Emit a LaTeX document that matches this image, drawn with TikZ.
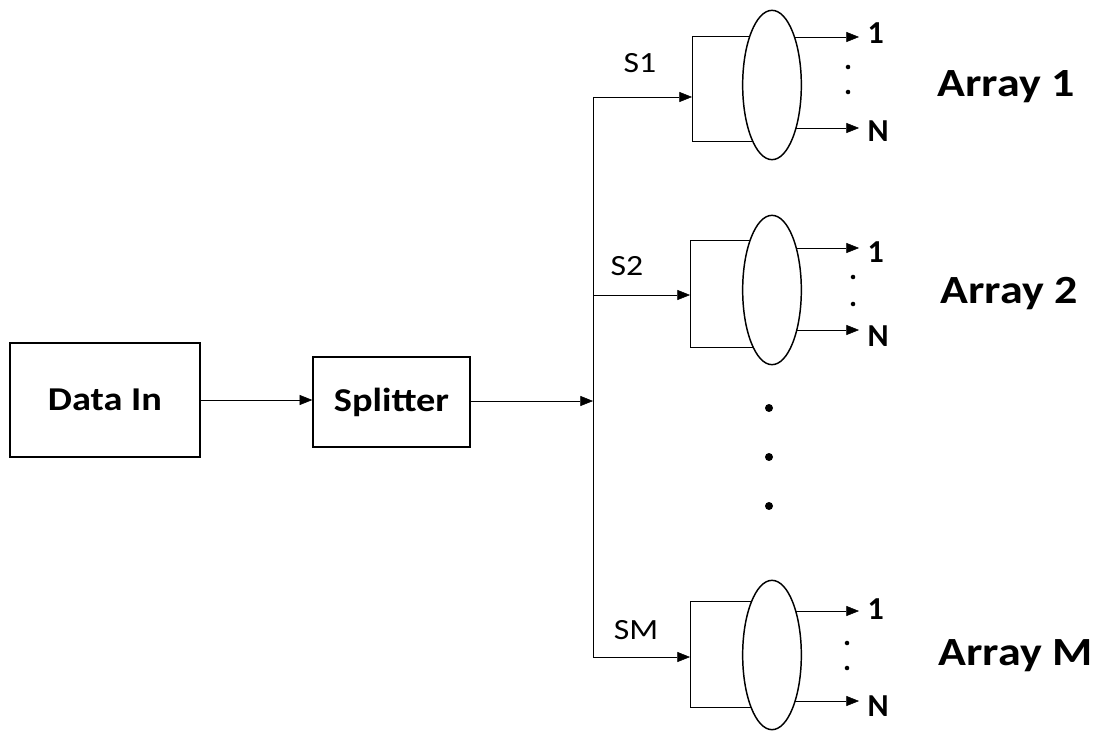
\documentclass[tikz,border=0pt]{standalone}
\usepackage{fontspec}
\setmainfont{Carlito}
\newfontfamily\widefont[FakeStretch=1.15]{Carlito}
\usetikzlibrary{arrows.meta,shapes.geometric,backgrounds}
\begin{document}
\begin{tikzpicture}[x=0.75pt,y=-0.75pt,
  line width=1.1pt,
  arr/.style={-{Triangle[length=9.5pt,width=7.5pt]}},
  blockbox/.style={draw,rectangle,inner sep=0pt,font=\widefont\fontsize{25}{27}\selectfont\bfseries},
  lens/.style={draw,ellipse,fill=white,minimum width=44pt,minimum height=112pt,inner sep=0pt},
  outlbl/.style={anchor=west,inner sep=0pt,font=\fontsize{24}{26}\selectfont\bfseries},
  slbl/.style={inner sep=0pt,font=\widefont\fontsize{22}{24}\selectfont},
  arrlbl/.style={anchor=base west,inner sep=0pt,font=\widefont\fontsize{30}{32}\selectfont\bfseries},
  bigdot/.style={circle,fill=black,inner sep=0pt,minimum size=6pt},
  smalldot/.style={circle,fill=black,inner sep=0pt,minimum size=3.4pt}]
\useasboundingbox (0,0) rectangle (1103,731);

% blocks
\node[blockbox,minimum width=142.5pt,minimum height=85.5pt] (data) at (105,400) {Data In};
\node[blockbox,minimum width=117.75pt,minimum height=67.5pt] (split) at (391.5,402) {Splitter};
\coordinate (junc) at (593,401);
\coordinate (vtop) at (593,97);
\coordinate (vbot) at (593,657);

% lenses
\node[lens] (e1) at (772,85) {};
\node[lens] (e2) at (772,290) {};
\node[lens] (em) at (772,655) {};

% bracket corners
\coordinate (b1t) at (692,36);  \coordinate (b1b) at (692,141); \coordinate (b1i) at (692,97);
\coordinate (b2t) at (690,240); \coordinate (b2b) at (690,347); \coordinate (b2i) at (690,295);
\coordinate (bmt) at (690,601); \coordinate (bmb) at (690,707); \coordinate (bmi) at (690,657);
\coordinate (j1) at (593,97); \coordinate (j2) at (593,295); \coordinate (jm) at (593,657);

% output arrow tips
\coordinate (t1a) at (859,37);  \coordinate (t1n) at (859,128);
\coordinate (t2a) at (859,248); \coordinate (t2n) at (859,330);
\coordinate (tma) at (859,611); \coordinate (tmn) at (859,701);

% output labels
\node[outlbl] (o1a) at (867,33) {1};
\node[outlbl] (o1n) at (867,131) {N};
\node[outlbl] (o2a) at (867,252) {1};
\node[outlbl] (o2n) at (867,336) {N};
\node[outlbl] (oma) at (867,609) {1};
\node[outlbl] (omn) at (867,706) {N};

% signal labels
\node[slbl] (s1) at (640,63) {S1};
\node[slbl] (s2) at (627,266) {S2};
\node[slbl] (sm) at (636,630) {SM};

% array labels
\node[arrlbl] (a1) at (937,97) {Array 1};
\node[arrlbl] (a2) at (940,303) {Array 2};
\node[arrlbl] (am) at (938,665) {Array M};

% dots
\node[bigdot] (d1) at (769,408) {};
\node[bigdot] (d2) at (769,457) {};
\node[bigdot] (d3) at (769,506) {};
\node[smalldot] (p11) at (848,67) {};
\node[smalldot] (p12) at (848,92) {};
\node[smalldot] (p21) at (853,277) {};
\node[smalldot] (p22) at (853,304) {};
\node[smalldot] (pm1) at (847,643) {};
\node[smalldot] (pm2) at (847,668) {};

\begin{scope}[on background layer]
  \draw[arr] (data.east |- 0,400) -- (split.west |- 0,400);
  \draw[arr] (split.east |- junc) -- (junc);
  \draw (vtop) -- (vbot);
  \draw[arr] (j1) -- (b1i);
  \draw[arr] (j2) -- (b2i);
  \draw[arr] (jm) -- (bmi);
  \draw (e1.center |- b1t) -- (b1t) -- (b1b) -- (e1.center |- b1b);
  \draw (e2.center |- b2t) -- (b2t) -- (b2b) -- (e2.center |- b2b);
  \draw (em.center |- bmt) -- (bmt) -- (bmb) -- (em.center |- bmb);
  \draw[arr] (e1.center |- t1a) -- (t1a);
  \draw[arr] (e1.center |- t1n) -- (t1n);
  \draw[arr] (e2.center |- t2a) -- (t2a);
  \draw[arr] (e2.center |- t2n) -- (t2n);
  \draw[arr] (em.center |- tma) -- (tma);
  \draw[arr] (em.center |- tmn) -- (tmn);
\end{scope}
\end{tikzpicture}
\end{document}
